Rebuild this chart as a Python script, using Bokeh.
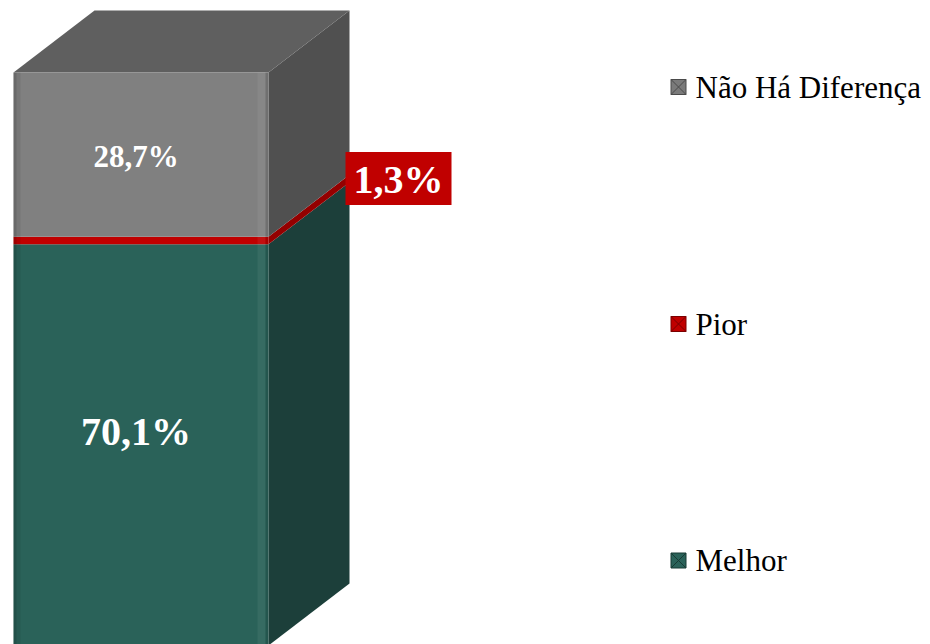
from bokeh.plotting import figure
from bokeh.models import Range1d
from bokeh.core.properties import value
from bokeh.embed import file_html
from bokeh.resources import INLINE

# ---- data ----
categories = ["Melhor", "Pior", "Não Há Diferença"]
values = [70.1, 1.3, 28.7]
value_labels = ["70,1%", "1,3%", "28,7%"]
legend_order = ["Não Há Diferença", "Pior", "Melhor"]

# ---- styles ----
front_colors = ["#2a6259", "#c00000", "#808080"]
side_colors = ["#1c3f3a", "#940000", "#505050"]
top_color = "#5f5f5f"
legend_colors = {"Não Há Diferença": "#7a7a7a", "Pior": "#c00000", "Melhor": "#2a6259"}
legend_edge = {"Não Há Diferença": "#4a4a4a", "Pior": "#7a0000", "Melhor": "#173a34"}
FONT = value("Liberation Serif")

W, H = 930, 644
PX_BOTTOM, PX_TOP = 645, 72
total = sum(values)
ppu = (PX_BOTTOM - PX_TOP) / total


def yd(px):
    return (PX_BOTTOM - px) / ppu


p = figure(width=W, height=H, x_range=Range1d(0, W),
           y_range=Range1d(yd(H), yd(0)),
           output_backend="svg", toolbar_location=None, min_border=0)
p.axis.visible = False
p.grid.visible = False
p.outline_line_color = None
p.background_fill_color = "white"
p.border_fill_color = "white"

X0, X1, DX = 13, 268, 81
DY = 62 / ppu

bottoms, tops = [], []
acc = 0.0
for v in values:
    bottoms.append(acc)
    acc += v
    tops.append(acc)
T = tops[-1]

# side faces
p.patches(xs=[[X1, X1 + DX, X1 + DX, X1] for _ in values],
          ys=[[b, b + DY, t + DY, t] for b, t in zip(bottoms, tops)],
          fill_color=side_colors, line_color=None)
# top face
p.patch([X0, X1, X1 + DX, X0 + DX], [T, T, T + DY, T + DY],
        fill_color=top_color, line_color=None)
# front faces
p.quad(left=X0, right=X1, bottom=bottoms, top=tops,
       fill_color=front_colors, line_color=None)
# bevel shading
p.quad(left=X0, right=X0 + 3, bottom=0, top=T, fill_color="black", fill_alpha=0.18, line_color=None)
p.quad(left=X0 + 3, right=X0 + 7, bottom=0, top=T, fill_color="black", fill_alpha=0.08, line_color=None)
p.quad(left=X1 - 11, right=X1 - 3, bottom=0, top=T, fill_color="white", fill_alpha=0.06, line_color=None)
p.quad(left=X1 - 3, right=X1, bottom=0, top=T, fill_color="black", fill_alpha=0.12, line_color=None)

# value labels
cx = (X0 + X1) / 2 - 5
mids = [(b + t) / 2 for b, t in zip(bottoms, tops)]
p.text(x=[cx], y=[mids[0]], text=[value_labels[0]], text_font=FONT, text_font_style="bold",
       text_font_size="40px", text_color="white", text_align="center", text_baseline="middle",
       y_offset=-13)
p.text(x=[cx], y=[mids[2]], text=[value_labels[2]], text_font=FONT, text_font_style="bold",
       text_font_size="31px", text_color="white", text_align="center", text_baseline="middle",
       y_offset=2)
# boxed label for the thin segment
bx = X1 + DX - 4 + 53
by = mids[1] + DY
p.rect(x=[bx], y=[by], width=106, height=53, width_units="screen", height_units="screen",
       fill_color="#c00000", line_color=None)
p.text(x=[bx], y=[by], text=[value_labels[1]], text_font=FONT, text_font_style="bold",
       text_font_size="40px", text_color="white", text_align="center", text_baseline="middle",
       y_offset=1)

# legend
leg_px = [86.5, 323.5, 560]
p.scatter(x=[678] * 3, y=[yd(v) for v in leg_px], marker="square_x", size=15,
          fill_color=[legend_colors[c] for c in legend_order],
          line_color=[legend_edge[c] for c in legend_order], line_width=1)
p.text(x=[695] * 3, y=[yd(v) for v in leg_px], text=legend_order, text_font=FONT,
       text_font_size="31px", text_color="black", text_align="left", text_baseline="middle")

open("out.html", "w").write(file_html(p, INLINE))
